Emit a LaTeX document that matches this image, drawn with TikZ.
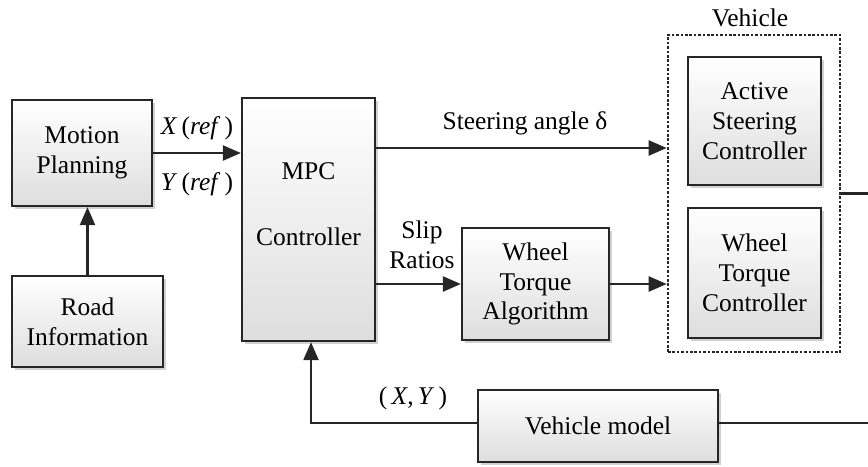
\documentclass[tikz,border=0pt]{standalone}
\usepackage{fontspec}
\setmainfont{Liberation Serif}
\usetikzlibrary{arrows.meta,shadows,calc}

\tikzset{
  block/.style={draw=black!85, line width=1.3pt, top color=white, bottom color=black!13,
    align=center, inner sep=2pt,
    drop shadow={shadow xshift=0.06cm, shadow yshift=-0.06cm, opacity=0.3, fill=black!60}},
  flow/.style={line width=1.3pt, black!85, -{Triangle[length=0.36cm, width=0.3cm]}},
  wire/.style={line width=1.2pt, black!85},
}

\begin{document}
\begin{tikzpicture}[font=\fontsize{14.5}{17}\selectfont]

    \useasboundingbox (0,0) rectangle (17.36,-9.32);

    % planning side
    \node [block, minimum width=2.8cm, minimum height=2.12cm] (mp) at (1.64,-3.06) {Motion\\Planning};
    \node [block, minimum width=3.02cm, minimum height=1.82cm] (road) at (1.75,-6.43) {Road\\Information};

    % controller
    \node [block, minimum width=2.66cm, minimum height=4.86cm] (mpc) at (6.17,-4.39) {};
    \node [align=center] (mpctext) at ([yshift=0.3cm]mpc.center) {MPC\\[0.72cm]Controller};

    \node [block, minimum width=2.94cm, minimum height=2.24cm] (wta) at (10.71,-5.68) {Wheel\\Torque\\Algorithm};

    % vehicle group
    \node [draw=black!85, densely dotted, line width=1.5pt, minimum width=3.44cm, minimum height=6.34cm] (veh) at (15.08,-3.87) {};
    \node (vehtext) at (15.0,-0.36) {Vehicle};
    \node [block, minimum width=2.66cm, minimum height=2.56cm] (asc) at (15.09,-2.42) {Active\\Steering\\Controller};
    \node [block, minimum width=2.66cm, minimum height=2.6cm] (wtc) at (15.09,-5.46) {Wheel\\Torque\\Controller};

    \node [block, minimum width=4.8cm, minimum height=1.44cm] (vm) at (11.96,-8.52) {Vehicle model};

    % connections
    \draw [flow] (road.north) -- (road.north |- mp.south);
    \draw [flow] (mp.east) -- (mp.east -| mpc.west);
    \node (xref) at (3.94,-2.56) {\textit{X}\,(\textit{ref}\,)};
    \node (yref) at (3.94,-3.68) {\textit{Y}\,(\textit{ref}\,)};

    \coordinate (sa) at (7.5,-2.96);
    \draw [flow] (sa) -- (sa -| veh.west);
    \node (satext) at (10.5,-2.46) {Steering angle δ};

    \draw [flow] (wta.west -| mpc.east) -- (wta.west);
    \node [align=center] (sliptext) at (8.44,-4.9) {Slip\\Ratios};
    \draw [flow] (wta.east) -- (wta.east -| veh.west);

    \coordinate (vout) at (17.36,-3.87);
    \draw [wire] (veh.east) -- (vout);
    \coordinate (vmout) at (17.36,-8.46);
    \draw [wire] (vm.east |- vmout) -- (vmout);

    \draw [flow] (vm.west |- vmout) -| ([xshift=0.05cm]mpc.south);
    \node (xy) at (8.26,-7.96) {(\,\textit{X},\,\textit{Y}\,)};

\end{tikzpicture}
\end{document}
